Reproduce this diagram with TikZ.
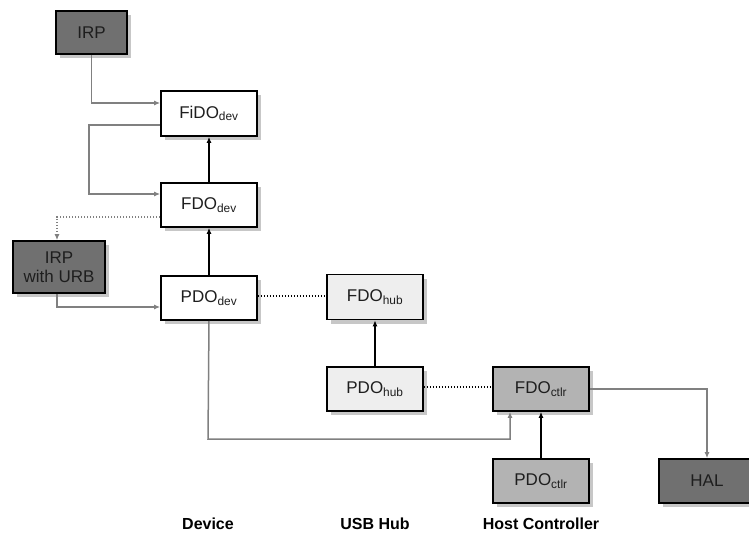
\documentclass[tikz,border=0pt]{standalone}
\usepackage{fontspec}
\setmainfont{Liberation Sans}
\usetikzlibrary{shadows,arrows.meta,calc}
\definecolor{darkbox}{HTML}{707070}
\definecolor{midbox}{HTML}{B3B3B3}
\definecolor{lightbox}{HTML}{EEEEEE}
\definecolor{conn}{HTML}{808080}
\definecolor{txt}{HTML}{1E1E1E}
\tikzset{
  objbox/.style={draw=black, line width=1.7pt, minimum width=96pt, minimum height=44pt,
    inner sep=0pt, align=center, text=txt, font=\fontsize{17}{19}\selectfont,
    drop shadow={shadow xshift=4pt, shadow yshift=-4pt, fill=black!22, opacity=1}},
  greyarr/.style={draw=conn, line width=1.5pt, -{Latex[length=6pt,width=5pt]}},
  blackarr/.style={draw=black, line width=1.9pt, -{Latex[length=6pt,width=5pt]}},
  dotline/.style={draw=black, line width=1.5pt, dash pattern=on 1.5pt off 1.5pt},
  greydot/.style={draw=conn, line width=1.5pt, dash pattern=on 1.5pt off 1.5pt, -{Latex[length=6pt,width=5pt]}},
  collabel/.style={font=\bfseries\fontsize{16}{18}\selectfont}
}
\begin{document}
\begin{tikzpicture}[x=1pt,y=-1pt]
\useasboundingbox[fill=white] (0,0) rectangle (749,535);
\node[objbox, fill=darkbox, minimum width=71pt, minimum height=43pt] (irp) at (91.5,32.5) {IRP};
\node[objbox, fill=white, minimum height=45pt] (fido) at (209,113.5) {FiDO\textsubscript{dev}};
\node[objbox, fill=white] (fdodev) at (209,205) {FDO\textsubscript{dev}};
\node[objbox, fill=darkbox, minimum width=92pt, minimum height=52pt] (irpurb) at (59,267) {IRP\\with URB};
\node[objbox, fill=white] (pdodev) at (209,298) {PDO\textsubscript{dev}};
\node[objbox, fill=lightbox, minimum height=45pt] (fdohub) at (375,297) {FDO\textsubscript{hub}};
\node[objbox, fill=lightbox] (pdohub) at (375,389) {PDO\textsubscript{hub}};
\node[objbox, fill=midbox] (fdoctlr) at (541,389) {FDO\textsubscript{ctlr}};
\node[objbox, fill=midbox] (pdoctlr) at (541,481) {PDO\textsubscript{ctlr}};
\node[objbox, fill=darkbox, minimum width=100pt, text width=96pt] (hal) at (709,481) {\hspace*{-4pt}HAL};

\node[collabel] (ldev) at (208,524) {Device};
\node[collabel] (lhub) at (375,524) {USB Hub};
\node[collabel] (lhost) at (541,524) {Host Controller};

\coordinate (c1) at (89,125);
\coordinate (c2) at (208,439);
\draw[greyarr] (irp.south) |- ($(fido.west)+(0,-10.5)$);
\draw[greyarr] ($(fido.west)+(0,11.5)$) -- (c1) |- ($(fdodev.west)+(0,-11)$);
\draw[greydot] ($(fdodev.west)+(0,12)$) -| ($(irpurb.north)+(-2,0)$);
\draw[greyarr] ($(irpurb.south)+(-2,0)$) |- ($(pdodev.west)+(0,9)$);
\draw[blackarr] (pdodev.north) -- (fdodev.south);
\draw[blackarr] (fdodev.north) -- (fido.south);
\draw[dotline] ($(pdodev.east)+(0,-2)$) -- ($(fdohub.west)+(0,-1)$);
\draw[blackarr] (pdohub.north) -- (fdohub.south);
\draw[dotline] ($(pdohub.east)+(0,-2)$) -- ($(fdoctlr.west)+(0,-2)$);
\draw[greyarr] (pdodev.south) -- (c2) -| ($(fdoctlr.south)+(-31,0)$);
\draw[blackarr] (pdoctlr.north) -- (fdoctlr.south);
\draw[greyarr] (fdoctlr.east) -| ($(hal.north)+(-2,0)$);
\end{tikzpicture}
\end{document}
